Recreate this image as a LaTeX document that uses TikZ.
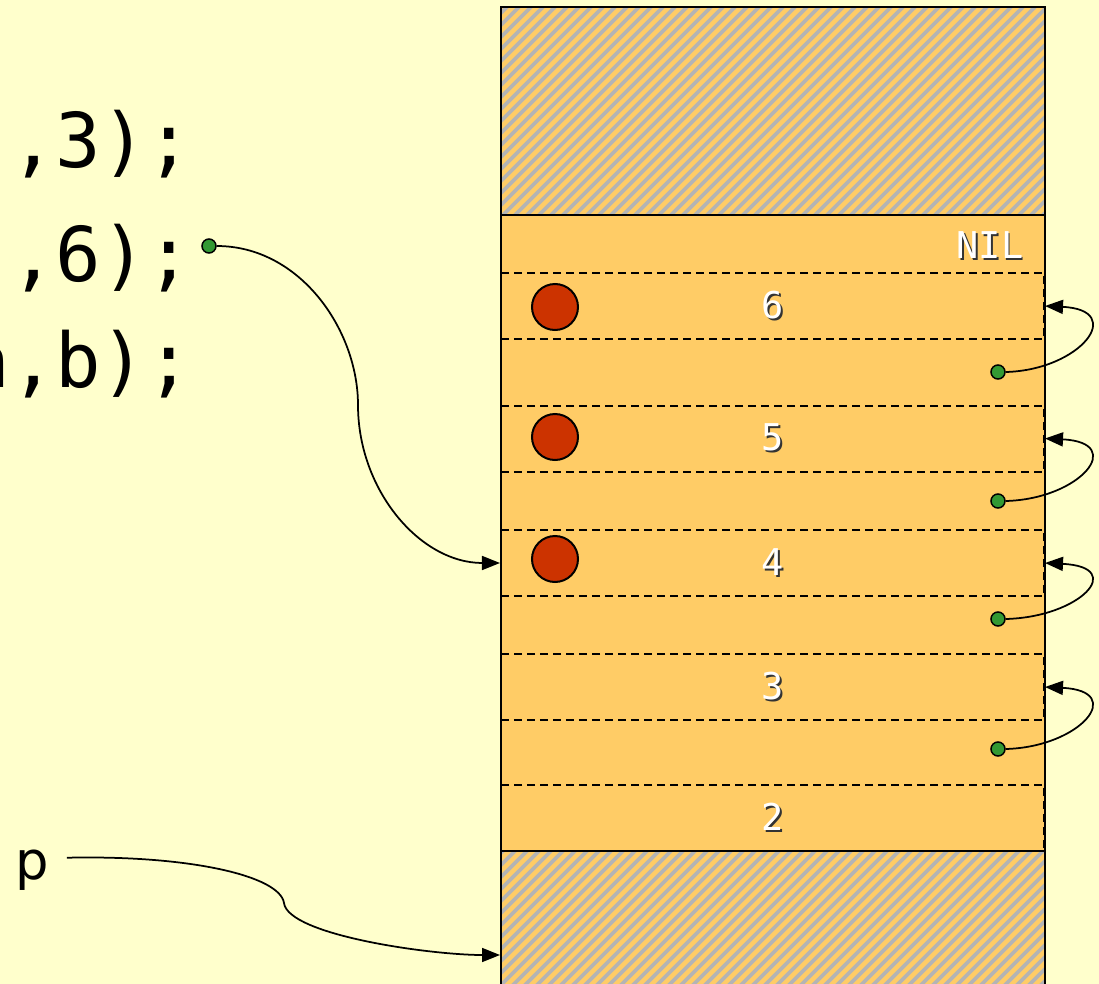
\documentclass[tikz,border=0pt]{standalone}
\usepackage{fontspec}
\setmonofont{DejaVu Sans Mono}
\setsansfont{DejaVu Sans}
\usetikzlibrary{arrows.meta}
\definecolor{cpaper}{HTML}{FFFFCC}
\definecolor{cstack}{HTML}{FFCC66}
\definecolor{chatch}{HTML}{B4B4B4}
\definecolor{cred}{HTML}{CC3300}
\definecolor{cgreen}{HTML}{339933}
\newcommand{\shadowed}[1]{\leavevmode\rlap{\kern1pt\raisebox{-1pt}{\textcolor{black!80}{#1}}}\textcolor{white}{#1}}
\tikzset{
  every picture/.style={line width=0.4mm},
  frame/.style={draw, dashed, dash pattern=on 1.6mm off 1mm, minimum width=108.6mm, minimum height=13.2mm, inner sep=0pt, font=\ttfamily\fontsize{21}{21}\selectfont},
  label/.style={inner sep=0pt, font=\ttfamily\fontsize{21}{21}\selectfont},
  obj/.style={circle, draw, fill=cred, minimum size=9.2mm, inner sep=0pt},
  dot/.style={circle, draw, fill=cgreen, minimum size=2.8mm, inner sep=0pt, line width=0.3mm},
  link/.style={-{Triangle[length=3.6mm, width=2.8mm]}, line width=0.35mm},
  code/.style={inner sep=0pt, font=\ttfamily\fontsize{43}{43}\selectfont},
  hatchline/.style={draw=chatch, line width=0.75mm},
}

\begin{document}
\begin{tikzpicture}[x=0.2mm, y=-0.2mm]
  \useasboundingbox (0,0) rectangle (1099,984);
  \fill[cpaper] (0,0) rectangle (1099,984);
  % code lines, cut off at the left
  \node[code, anchor=base east] (l1) at (193,167) {,3);};
  \node[code, anchor=base east] (l2) at (193,281) {,6);};
  \node[code, anchor=base east] (l3) at (193,387) {a,b);};
  \node[font=\sffamily\fontsize{30}{30}\selectfont, anchor=base west, inner sep=0pt] (p) at (14,879) {p};
  % stack: orange part, hatched ends
  \fill[cstack] (501,7) rectangle (1045,990);
  \begin{scope}
    \clip (501,7) rectangle (1045,215) (501,851) rectangle (1045,990);
    \foreach \x in {-500,-488,...,1045} {
      \draw[hatchline] (\x,990) -- ++(983,-983);
    }
  \end{scope}
  \draw (501,7) rectangle (1045,215);
  \draw (501,215) rectangle (1045,851);
  \draw (501,851) rectangle (1045,990);
  % frames
  \foreach \n/\y in {6/306, 5/438.5, 4/563, 3/687, 2/818} {
    \node[frame] (f\n) at (772.5,\y) {\shadowed{\n}};
  }
  \node[label] (nil) at (990,246) {\shadowed{NIL}};
  \foreach \n/\y in {6/307, 5/437, 4/559} {
    \node[obj] (r\n) at (555,\y) {};
  }
  % links back to the calling frame
  \foreach \n/\y in {6/372, 5/501, 4/619, 3/749} {
    \node[dot] (d\n) at (998,\y) {};
    \draw[link] (d\n.east) .. controls +(75,-2) and +(82,4) .. (f\n.east);
  }
  \node[dot] (ptr) at (209,246) {};
  \draw[link] (ptr.east) .. controls (300,246) and (358,330) .. (358,405) .. controls (358,490) and (420,563) .. (f4.west);
  \coordinate (stackp) at (500,955);
  \draw[link] ([xshift=3.5mm, yshift=2.4mm]p.east) .. controls (190,855) and (280,876) .. (284,903) .. controls (288,935) and (430,955) .. (stackp);
\end{tikzpicture}
\end{document}
